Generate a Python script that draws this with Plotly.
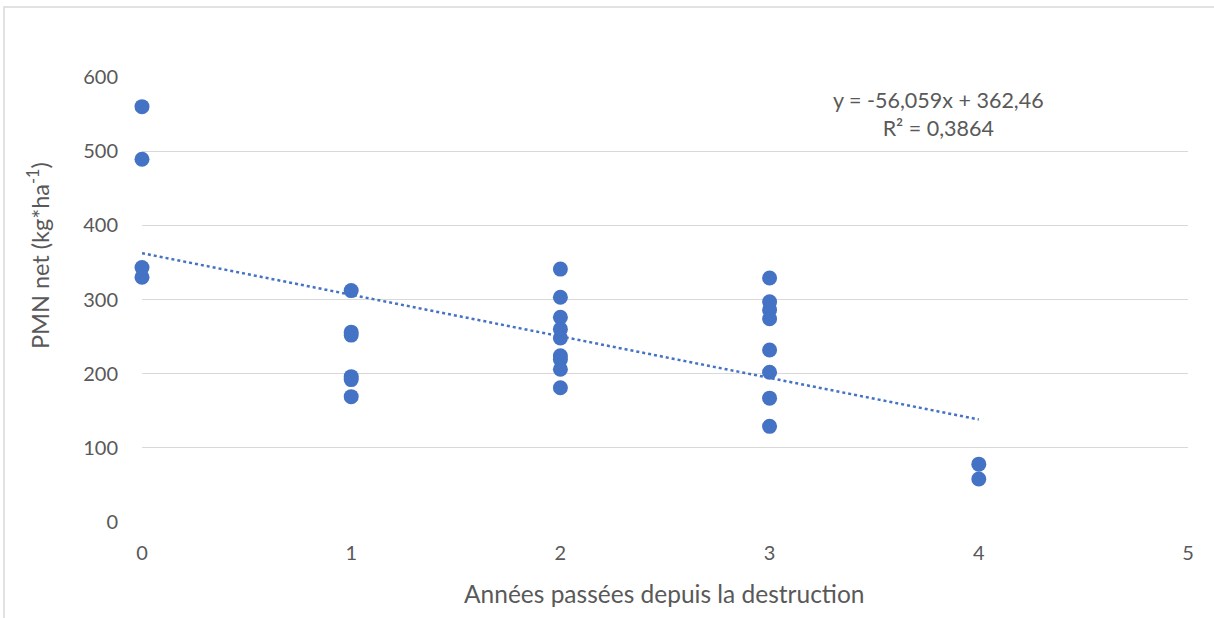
import plotly.graph_objects as go

# Data
x0_vals = [560, 489, 343, 330]
x1_vals = [312, 256, 252, 196, 192, 169]
x2_vals = [341, 303, 276, 260, 248, 224, 219, 206, 181]
x3_vals = [329, 297, 286, 274, 232, 202, 167, 129]
x4_vals = [78, 58]
years = [0, 1, 2, 3, 4]
groups = [x0_vals, x1_vals, x2_vals, x3_vals, x4_vals]

slope = -56.059
intercept = 362.46
r2_text = "0,3864"
trend_x = [0, 4]

xs, ys = [], []
for yr, vals in zip(years, groups):
    for v in vals:
        xs.append(yr)
        ys.append(v)

W, H = 1214, 618
L, R, T, B = 142, 26, 77, 96
pw, ph = W - L - R, H - T - B

def px(xp):
    return (xp - L) / pw

def py(yp):
    return (H - B - yp) / ph

FONT = "Lato"
GREY = "#595959"
BLUE = "#4472C4"

fig = go.Figure()
fig.add_trace(go.Scatter(
    x=xs, y=ys, mode="markers", cliponaxis=False,
    marker=dict(size=15, color=BLUE, line=dict(width=0)),
    showlegend=False, hoverinfo="x+y"))
fig.add_trace(go.Scatter(
    x=trend_x, y=[slope * t + intercept for t in trend_x], mode="lines",
    cliponaxis=False,
    line=dict(color=BLUE, width=2.5, dash="dot"),
    showlegend=False, hoverinfo="skip"))

fig.update_layout(
    width=W, height=H,
    margin=dict(l=L, r=R, t=T, b=B),
    paper_bgcolor="white", plot_bgcolor="white",
    font=dict(family=FONT, size=20, color=GREY),
    xaxis=dict(range=[0, 5], tickvals=[0, 1, 2, 3, 4, 5], showgrid=False,
               zeroline=False, showline=False, ticklabelstandoff=17,
               tickfont=dict(family=FONT, size=20, color=GREY)),
    yaxis=dict(range=[0, 600], tickvals=[0, 100, 200, 300, 400, 500, 600],
               showgrid=True, gridcolor="#D9D9D9", gridwidth=1.3,
               zeroline=False, showline=False, ticklabelstandoff=23,
               tickfont=dict(family=FONT, size=20, color=GREY)),
    annotations=[
        dict(text="Années passées depuis la destruction", xref="paper", yref="paper",
             x=px(664), y=py(593), xanchor="center", yanchor="middle", showarrow=False,
             font=dict(family=FONT, size=24.5, color=GREY)),
        dict(text="PMN net (kg*ha<sup>-1</sup>)", xref="paper", yref="paper",
             x=px(38), y=py(256), xanchor="center", yanchor="middle", showarrow=False,
             textangle=-90, font=dict(family=FONT, size=23.5, color=GREY)),
        dict(text=f"y = {str(slope).replace('.', ',')}x + {str(intercept).replace('.', ',')}<br>R² = {r2_text}",
             xref="paper", yref="paper", x=px(938), y=py(114), xanchor="center",
             yanchor="middle", showarrow=False, align="center",
             font=dict(family=FONT, size=21.5, color=GREY)),
    ],
    shapes=[
        dict(type="path", xref="paper", yref="paper",
             path=f"M {px(4)} {py(620)} L {px(4)} {py(7)} L {px(1216)} {py(7)}",
             line=dict(color="#D9D9D9", width=1.5)),
    ],
)

fig.write_html("out.html")
